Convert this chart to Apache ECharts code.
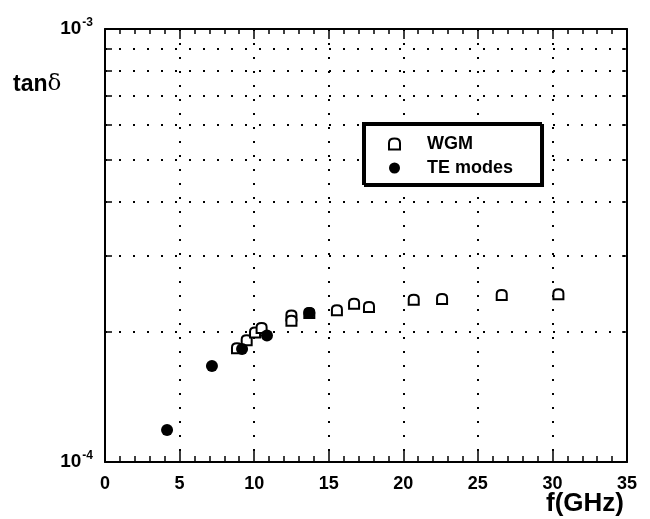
<!DOCTYPE html>
<html>
<head>
<meta charset="utf-8">
<script src="https://cdn.jsdelivr.net/npm/echarts@6/dist/echarts.min.js"></script>
<style>
html,body{margin:0;padding:0;background:#fff}
#chart{width:650px;height:519px}
</style>
</head>
<body>
<div id="chart"></div>
<script>
// WGM (open markers)
var wgmFreq = [8.85, 9.5, 10.06, 10.5, 12.5, 12.5, 13.7, 15.55, 16.7, 17.7, 20.7, 22.6, 26.6, 30.4];
var wgmTan = [1.83e-4, 1.91e-4, 1.99e-4, 2.04e-4, 2.18e-4, 2.12e-4, 2.21e-4, 2.24e-4, 2.32e-4, 2.28e-4, 2.37e-4, 2.38e-4, 2.43e-4, 2.44e-4];
// TE modes (filled)
var teFreq = [4.16, 7.17, 9.19, 10.86, 13.7];
var teTan = [1.185e-4, 1.666e-4, 1.824e-4, 1.96e-4, 2.21e-4];
// axis ticks
var xTickStep = 5;
var yGridValues = [1e-4, 2e-4, 3e-4, 4e-4, 5e-4, 6e-4, 7e-4, 8e-4, 9e-4, 1e-3];
var yLabelValues = [1e-4, 1e-3];

function pairs(xs, ys) {
    var out = [];
    for (var i = 0; i < xs.length; i++) {
        out.push([xs[i], ys[i]]);
    }
    return out;
}

var font = '"Liberation Sans", Arial, sans-serif';
var dotted = {color: '#000', width: 2, type: [2, 12]};

var mychart = echarts.init(document.getElementById('chart'));
var option = {
    animation: false,
    backgroundColor: '#fff',
    grid: {left: 105, top: 29, width: 522, height: 433, outerBoundsMode: 'none'},
    legend: {
        orient: 'vertical',
        left: 363,
        top: 123,
        padding: [12, 28, 7, 25],
        itemGap: 6,
        itemWidth: 11,
        itemHeight: 11,
        backgroundColor: '#fff',
        borderColor: '#000',
        borderWidth: 2,
        borderRadius: 0,
        shadowColor: '#000',
        shadowBlur: 0,
        shadowOffsetX: 2,
        shadowOffsetY: 2,
        textStyle: {fontFamily: font, fontWeight: 'bold', fontSize: 18, color: '#000', padding: [0, 0, 0, 22]},
        data: ['WGM', 'TE modes']
    },
    xAxis: [{
        type: 'value',
        min: 0,
        max: 35,
        interval: xTickStep,
        axisLine: {show: true, onZero: false, lineStyle: {color: '#000', width: 2}},
        axisTick: {show: true, inside: true, length: 11, lineStyle: {color: '#000', width: 1.5}},
        minorTick: {show: true, splitNumber: 5, length: 6, lineStyle: {color: '#000', width: 1.5}},
        axisLabel: {margin: 13, color: '#000', fontFamily: font, fontWeight: 'bold', fontSize: 18},
        splitLine: {show: true, lineStyle: dotted}
    }, {
        type: 'value',
        position: 'top',
        min: 0,
        max: 35,
        interval: xTickStep,
        axisLine: {show: true, onZero: false, lineStyle: {color: '#000', width: 2}},
        axisTick: {show: true, inside: true, length: 10, lineStyle: {color: '#000', width: 1.5}},
        minorTick: {show: true, splitNumber: 5, length: 5, lineStyle: {color: '#000', width: 1.5}},
        axisLabel: {show: false},
        splitLine: {show: false}
    }],
    yAxis: [{
        type: 'log',
        logBase: 10,
        min: 1e-4,
        max: 1e-3,
        axisLine: {show: true, onZero: false, lineStyle: {color: '#000', width: 2}},
        axisTick: {show: true, inside: true, length: 7, customValues: yGridValues, lineStyle: {color: '#000', width: 1.5}},
        axisLabel: {
            margin: 12,
            customValues: yLabelValues,
            formatter: function (v) {
                return '{b|10}{s|' + Math.round(Math.log10(v)) + '}';
            },
            rich: {
                b: {fontFamily: font, fontWeight: 'bold', fontSize: 19, color: '#000'},
                s: {fontFamily: font, fontWeight: 'bold', fontSize: 12, color: '#000', padding: [0, 0, 13, 1]}
            }
        },
        splitLine: {show: true, lineStyle: dotted}
    }, {
        type: 'log',
        logBase: 10,
        position: 'right',
        min: 1e-4,
        max: 1e-3,
        axisLine: {show: true, onZero: false, lineStyle: {color: '#000', width: 2}},
        axisTick: {show: true, inside: true, length: 5, customValues: yGridValues, lineStyle: {color: '#000', width: 1.5}},
        axisLabel: {show: false},
        splitLine: {show: false}
    }],
    graphic: [{
        type: 'text',
        left: 13,
        top: 73,
        style: {
            text: '{t|tan}{d|δ}',
            rich: {
                t: {fontFamily: font, fontWeight: 'bold', fontSize: 23, fill: '#000'},
                d: {fontFamily: '"DejaVu Serif", serif', fontSize: 23, fill: '#000'}
            }
        }
    }, {
        type: 'text',
        left: 546,
        top: 491,
        style: {text: 'f(GHz)', fontFamily: font, fontWeight: 'bold', fontSize: 26, fill: '#000'}
    }],
    series: [{
        name: 'WGM',
        type: 'scatter',
        symbol: 'path://M0,10 L0,4 C0,1 2,0 5,0 C8,0 10,1 10,4 L10,10 Z',
        symbolSize: 10,
        itemStyle: {color: '#fff', borderColor: '#000', borderWidth: 2, opacity: 1},
        data: pairs(wgmFreq, wgmTan)
    }, {
        name: 'TE modes',
        type: 'scatter',
        symbol: 'circle',
        symbolSize: 12,
        itemStyle: {color: '#000', borderColor: '#000', borderWidth: 0, opacity: 1},
        data: pairs(teFreq, teTan)
    }]
};
mychart.setOption(option);
</script>
</body>
</html>
